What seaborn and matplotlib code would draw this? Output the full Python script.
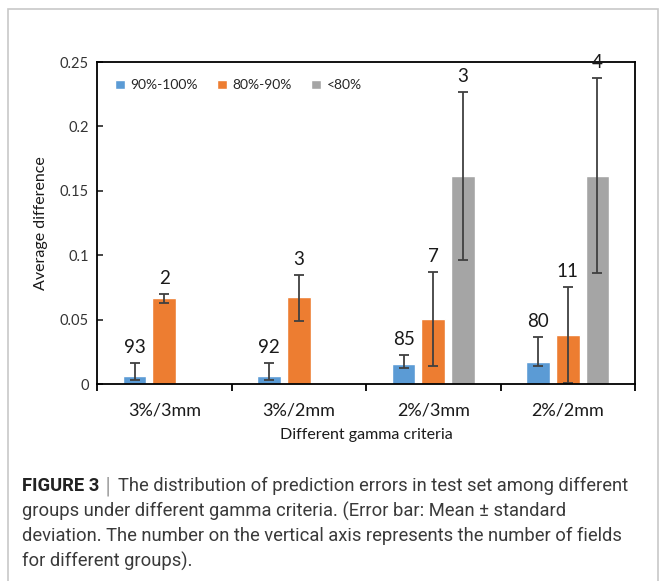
import numpy as np
import pandas as pd
import seaborn as sns
import matplotlib.pyplot as plt
from matplotlib.patches import Rectangle

criteria = ["3%/3mm", "3%/2mm", "2%/3mm", "2%/2mm"]
groups = ["90%-100%", "80%-90%", "<80%"]

# mean values per group (nan = no bar)
mean_hi = [0.0064, 0.0064, 0.0157, 0.0171]
mean_mid = [0.0669, 0.0675, 0.0502, 0.0378]
mean_lo = [np.nan, np.nan, 0.1613, 0.1618]

# error bar ends
err_top_hi = [0.016, 0.016, 0.0225, 0.0367]
err_bot_hi = [0.003, 0.003, 0.0124, 0.014]
err_top_mid = [0.0698, 0.085, 0.0871, 0.0752]
err_bot_mid = [0.0631, 0.049, 0.0137, 0.001]
err_top_lo = [np.nan, np.nan, 0.2267, 0.2379]
err_bot_lo = [np.nan, np.nan, 0.0959, 0.0863]

# number of fields
n_hi = [93, 92, 85, 80]
n_mid = [2, 3, 7, 11]
n_lo = [None, None, 3, 4]

colors = ["#5B9BD5", "#ED7D31", "#A5A5A5"]

rows = []
for g, means, tops, bots, ns in [
    (groups[0], mean_hi, err_top_hi, err_bot_hi, n_hi),
    (groups[1], mean_mid, err_top_mid, err_bot_mid, n_mid),
    (groups[2], mean_lo, err_top_lo, err_bot_lo, n_lo),
]:
    for c, m, t, b, n in zip(criteria, means, tops, bots, ns):
        if not np.isnan(m):
            rows.append(dict(criteria=c, group=g, mean=m, top=t, bot=b, n=n))
df = pd.DataFrame(rows)

sns.set_style("white")
fig = plt.figure(figsize=(6.59, 5.81), dpi=100)
ax = fig.add_axes([97 / 659, 1 - 384 / 581, 538 / 659, 322 / 581])

sns.barplot(data=df, x="criteria", y="mean", hue="group", order=criteria,
            hue_order=groups, palette=colors, width=0.66, gap=0.2,
            errorbar=None, ax=ax, saturation=1)

# custom error bars and counts, placed on the drawn bars
for cont, g in zip(ax.containers, groups):
    sub = df[df.group == g].set_index("criteria").reindex(criteria).dropna(subset=["mean"])
    for bar, (_, r) in zip(cont, sub.iterrows()):
        xc = bar.get_x() + bar.get_width() / 2
        ax.errorbar(xc, r["mean"], yerr=[[r["mean"] - r["bot"]], [r["top"] - r["mean"]]],
                    fmt="none", ecolor="#404040", elinewidth=1.3, capsize=3.5, capthick=1.3)
        ax.annotate(str(int(r["n"])), (xc, r["top"]), xytext=(0, 5),
                    textcoords="offset points", ha="center", va="bottom",
                    fontsize=13.5, family="Lato", color="#1a1a1a")

ax.set_ylim(0, 0.25)
ax.set_xlim(-0.5, 3.5)
ax.set_yticks([0, 0.05, 0.1, 0.15, 0.2, 0.25])
ax.set_yticklabels(["0", "0.05", "0.1", "0.15", "0.2", "0.25"])
ax.set_xticks([-0.5, 0.5, 1.5, 2.5, 3.5], minor=True)
ax.tick_params(axis="x", which="major", length=0, labelsize=13, pad=13,
               labelcolor="#1a1a1a")
ax.tick_params(axis="x", which="minor", length=5, width=1.3, direction="out",
               color="black", bottom=True)
ax.tick_params(axis="y", length=4, width=1.2, direction="in", left=True,
               labelsize=10.5, labelcolor="#333333", pad=6)
for lab in ax.get_xticklabels() + ax.get_yticklabels():
    lab.set_family("Lato")
for sp in ax.spines.values():
    sp.set_color("black")
    sp.set_linewidth(1.3)

ax.set_xlabel("Different gamma criteria", family="Lato", fontsize=11.5,
              color="#1a1a1a", labelpad=7)
ax.set_ylabel("Average difference", family="Lato", fontsize=11.5,
              color="#1a1a1a", labelpad=8)

ax.legend(loc="upper left", bbox_to_anchor=(0.01, 0.985), ncol=3, frameon=False,
          prop={"family": "Lato", "size": 10}, handlelength=0.7, handleheight=0.7,
          handletextpad=0.4, columnspacing=1.4)

# outer frame and caption
fig.patches.append(Rectangle((8 / 659, -0.1), 649.5 / 659, 1.1 - 9 / 581,
                             transform=fig.transFigure, fill=False,
                             edgecolor="#c8c8c8", linewidth=1.2))
cap_kw = dict(family="Roboto", fontsize=13.2, color="#3a3a3a")
t1 = fig.text(22 / 659, 1 - 486 / 581, "FIGURE 3", weight="bold", va="center",
              family="Roboto", fontsize=13.2, color="#222222")
t_bar = ax.annotate(" | ", xy=(1, 0.5), xycoords=t1, va="center", annotation_clip=False,
                    family="DejaVu Sans", fontsize=13.5, color="#999999")
ax.annotate("The distribution of prediction errors in test set among different",
            xy=(1, 0.5), xycoords=t_bar, va="center", annotation_clip=False, **cap_kw)
fig.text(22 / 659, 1 - 511 / 581,
         "groups under different gamma criteria. (Error bar: Mean \u00b1 standard",
         va="center", **cap_kw)
fig.text(22 / 659, 1 - 536 / 581,
         "deviation. The number on the vertical axis represents the number of fields",
         va="center", **cap_kw)
fig.text(22 / 659, 1 - 561 / 581, "for different groups).", va="center", **cap_kw)

fig.savefig("out.png", dpi=100)
